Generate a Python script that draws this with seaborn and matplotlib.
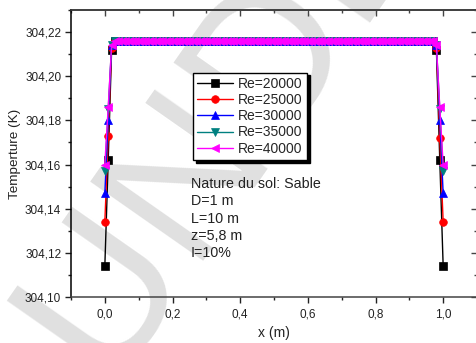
import numpy as np
import pandas as pd
import seaborn as sns
import matplotlib
matplotlib.use("Agg")
import matplotlib.pyplot as plt
from matplotlib.ticker import MultipleLocator, FuncFormatter

# Position along the pipe (m), sampled every 0.01 m
x_m = np.round(np.arange(0, 101) * 0.01, 2)

series_names = ["Re=20000", "Re=25000", "Re=30000", "Re=35000", "Re=40000"]

# Temperatures at the three first and three last stations (K)
left_edge = {
    "Re=20000": [304.114, 304.162, 304.212],
    "Re=25000": [304.134, 304.173, 304.213],
    "Re=30000": [304.147, 304.180, 304.214],
    "Re=35000": [304.157, 304.185, 304.214],
    "Re=40000": [304.160, 304.186, 304.214],
}
right_edge = {
    "Re=20000": [304.212, 304.162, 304.114],
    "Re=25000": [304.213, 304.172, 304.134],
    "Re=30000": [304.214, 304.180, 304.147],
    "Re=35000": [304.214, 304.185, 304.157],
    "Re=40000": [304.214, 304.186, 304.160],
}
# Temperature along the inner stretch (K)
plateau_level = {
    "Re=20000": 304.216,
    "Re=25000": 304.216,
    "Re=30000": 304.216,
    "Re=35000": 304.216,
    "Re=40000": 304.216,
}

colors = ["#000000", "#ff0000", "#0000ff", "#008080", "#ff00ff"]
markers = ["s", "o", "^", "v", "<"]

annotation_lines = ["Nature du sol: Sable", "D=1 m", "L=10 m", "z=5,8 m", "I=10%"]

rows = []
n_inner = len(x_m) - 6
for name in series_names:
    temps = left_edge[name] + [plateau_level[name]] * n_inner + right_edge[name]
    for xv, tv in zip(x_m, temps):
        rows.append({"x": xv, "T": tv, "serie": name})
df = pd.DataFrame(rows)

sns.set_theme(style="ticks")
plt.rcParams["font.family"] = ["Liberation Sans", "DejaVu Sans"]

fig = plt.figure(figsize=(4.76, 3.43), dpi=100)
W, H = 476, 343
ax = fig.add_axes([71 / W, 46 / H, 406 / W, 287 / H])
ax.patch.set_alpha(0)

# faint diagonal watermark behind the plot
fig.text(105 / W, (H - 380) / H, "UNDER", fontsize=145, color="#e0e0e0",
         rotation=55, rotation_mode="anchor", ha="left", va="baseline",
         zorder=-5)

sns.lineplot(data=df, x="x", y="T", hue="serie", style="serie",
             hue_order=series_names, style_order=series_names,
             palette=dict(zip(series_names, colors)),
             markers=dict(zip(series_names, markers)), dashes=False,
             estimator=None, sort=False, legend=False, linewidth=1.0,
             markersize=5.5, ax=ax)
for line, c in zip(ax.lines, colors):
    line.set_markeredgecolor(c)
    line.set_markerfacecolor(c)
    line.set_markeredgewidth(0.5)

ax.set_xlim(-0.1, 1.1)
ax.set_ylim(304.10, 304.23)


def comma_fmt(decimals):
    def f(v, pos):
        if abs(v) < 1e-9:
            v = 0.0
        return f"{v:.{decimals}f}".replace(".", ",")
    return FuncFormatter(f)


ax.xaxis.set_major_locator(MultipleLocator(0.2))
ax.xaxis.set_minor_locator(MultipleLocator(0.1))
ax.yaxis.set_major_locator(MultipleLocator(0.02))
ax.yaxis.set_minor_locator(MultipleLocator(0.01))
ax.xaxis.set_major_formatter(comma_fmt(1))
ax.yaxis.set_major_formatter(comma_fmt(2))
ax.tick_params(which="major", direction="out", length=4, width=1,
               labelsize=8.5, color="#222222", labelcolor="#222222", pad=3)
ax.tick_params(which="minor", direction="out", length=2.5, width=1,
               color="#222222")
ax.tick_params(axis="x", which="major", pad=4)

for side in ["top", "right", "bottom"]:
    ax.spines[side].set_color("#444444")
    ax.spines[side].set_linewidth(1.1)
ax.spines["left"].set_color("black")
ax.spines["left"].set_linewidth(1.1)

# mirrored inward ticks on top and right
top = ax.secondary_xaxis("top")
top.xaxis.set_major_locator(MultipleLocator(0.2))
top.xaxis.set_minor_locator(MultipleLocator(0.1))
top.tick_params(which="major", direction="in", length=4, width=1,
                labeltop=False, color="#444444")
top.tick_params(which="minor", direction="in", length=2.5, width=1,
                color="#444444")
right = ax.secondary_yaxis("right")
right.yaxis.set_major_locator(MultipleLocator(0.02))
right.yaxis.set_minor_locator(MultipleLocator(0.01))
right.tick_params(which="major", direction="in", length=4, width=1,
                  labelright=False, color="#444444")
right.tick_params(which="minor", direction="in", length=2.5, width=1,
                  color="#444444")

ax.set_xlabel("x (m)", fontsize=10, color="#222222", labelpad=4)
ax.set_ylabel("Temperture (K)", fontsize=9.7, color="#222222", labelpad=3)

leg = ax.legend(ax.lines, series_names, loc="upper left",
                bbox_to_anchor=(0.300, 0.782), borderaxespad=0,
                fontsize=10, frameon=True, fancybox=False,
                shadow={"color": "black", "alpha": 1},
                handlelength=2.6, handletextpad=0.35, labelspacing=0.16,
                borderpad=0.3)
leg.get_frame().set_edgecolor("black")
leg.get_frame().set_linewidth(1.0)

ax.text((191 - 71) / 406, 1 - (177 - 10) / 287,
        "\n".join(annotation_lines), transform=ax.transAxes,
        fontsize=10.3, color="#222222", ha="left", va="top",
        linespacing=1.3)

fig.savefig("out.png", dpi=100)
